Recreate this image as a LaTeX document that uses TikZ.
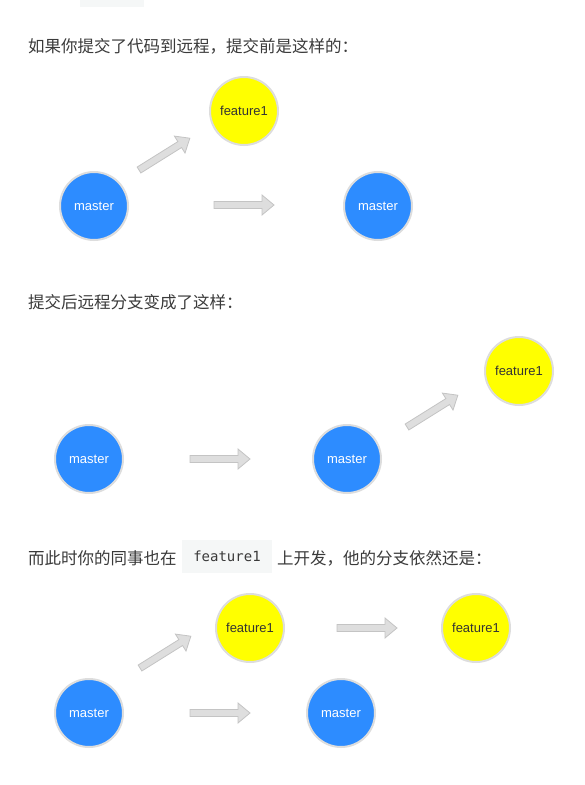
\documentclass[tikz,border=0pt]{standalone}
\usepackage{fontspec}
\setmainfont{Liberation Sans}
\newfontfamily\cjk{Noto Sans CJK SC}
\newfontfamily\codefont{DejaVu Sans Mono}
\definecolor{mblue}{HTML}{2D8CFF}
\definecolor{fyellow}{HTML}{FFFF00}
\definecolor{ringgray}{HTML}{DDDDDD}
\definecolor{arrfill}{HTML}{DEDEDE}
\definecolor{arrline}{HTML}{C4C4C4}
\definecolor{txt}{HTML}{3A3A3A}
\definecolor{codebg}{HTML}{F5F7F7}
\tikzset{
  commit/.style={circle, minimum size=68, inner sep=0, draw=ringgray, line width=2pt, font=\fontsize{13}{13}\selectfont},
  masterc/.style={commit, fill=mblue, text=white},
  featc/.style={commit, fill=fyellow, text=black!80},
  garrowstyle/.style={fill=arrfill, draw=arrline, line width=0.8pt, line join=miter},
  heading/.style={anchor=west, inner sep=0, text=txt, font=\cjk\fontsize{16.5}{16.5}\selectfont},
  codebox/.style={fill=codebg, inner sep=0, minimum width=90, minimum height=33, text=txt, font=\codefont\fontsize{14}{14}\selectfont},
}
\newcommand\garrow[2]{%
  \draw[garrowstyle, shift={(#1)}, rotate=#2] (0,-3.5) -- (48,-3.5) -- (48,-10) -- (60,0) -- (48,10) -- (48,3.5) -- (0,3.5) -- cycle;}
\begin{document}
\begin{tikzpicture}[x=1pt,y=-1pt]
  \useasboundingbox[fill=white] (0,0) rectangle (585,785);
  \fill[codebg] (80,0) rectangle (144,7);

  % section 1
  \node[heading] (t1) at (28,46.5) {如果你提交了代码到远程，提交前是这样的：};
  \node[featc] (f1) at (244,111) {feature1};
  \node[masterc] (m1) at (94,206) {master};
  \node[masterc] (m2) at (378,206) {master};
  \coordinate (a1) at (139,170);
  \coordinate (a2) at (214,205);
  \garrow{a1}{32}
  \garrow{a2}{0}

  % section 2
  \node[heading] (t2) at (28,302.5) {提交后远程分支变成了这样：};
  \node[masterc] (m3) at (89,459) {master};
  \node[masterc] (m4) at (347,459) {master};
  \node[featc] (f2) at (519,371) {feature1};
  \coordinate (a3) at (190,459);
  \coordinate (a4) at (407,427);
  \garrow{a3}{0}
  \garrow{a4}{32}

  % section 3
  \node[heading] (t3a) at (28,558) {而此时你的同事也在};
  \node[codebox] (code) at (227,556.5) {feature1};
  \node[heading] (t3b) at (277,558) {上开发，他的分支依然还是：};
  \node[featc] (f3) at (250,628) {feature1};
  \node[featc] (f4) at (476,628) {feature1};
  \node[masterc] (m5) at (89,713) {master};
  \node[masterc] (m6) at (341,713) {master};
  \coordinate (a5) at (140,668);
  \coordinate (a6) at (190,713);
  \coordinate (a7) at (337,628);
  \garrow{a5}{32}
  \garrow{a6}{0}
  \garrow{a7}{0}
\end{tikzpicture}
\end{document}
